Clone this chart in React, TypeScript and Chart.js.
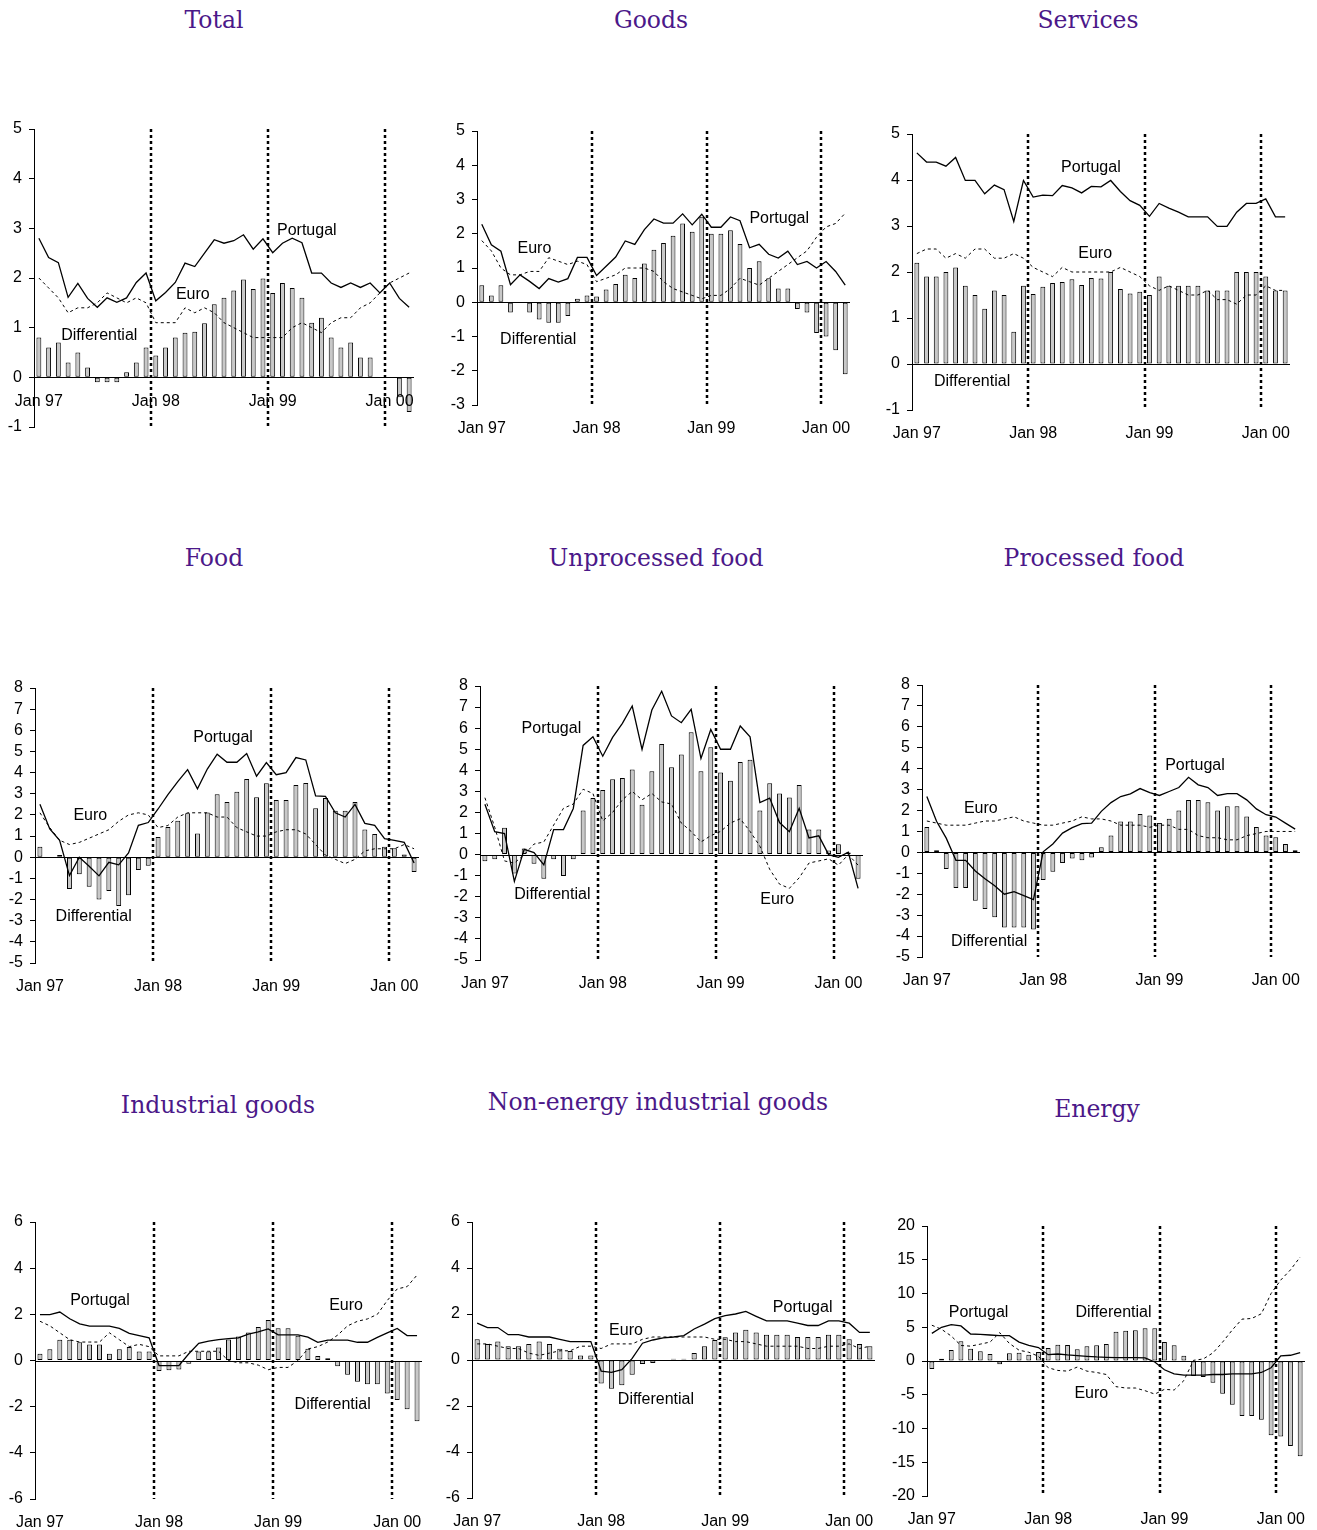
import React, { useEffect, useRef } from 'react';
import { Chart, registerables } from 'chart.js';

Chart.register(...registerables);

// Monthly observations, Jan 1997 – Mar 2000
const months = [
  'Jan 97', 'Feb 97', 'Mar 97', 'Apr 97', 'May 97', 'Jun 97', 'Jul 97', 'Aug 97', 'Sep 97', 'Oct 97', 'Nov 97', 'Dec 97',
  'Jan 98', 'Feb 98', 'Mar 98', 'Apr 98', 'May 98', 'Jun 98', 'Jul 98', 'Aug 98', 'Sep 98', 'Oct 98', 'Nov 98', 'Dec 98',
  'Jan 99', 'Feb 99', 'Mar 99', 'Apr 99', 'May 99', 'Jun 99', 'Jul 99', 'Aug 99', 'Sep 99', 'Oct 99', 'Nov 99', 'Dec 99',
  'Jan 00', 'Feb 00', 'Mar 00',
];

// Total
const totalPortugal = [2.8, 2.41, 2.31, 1.61, 1.89, 1.59, 1.41, 1.6, 1.51, 1.6, 1.91, 2.1, 1.54, 1.71, 1.91, 2.3, 2.23, 2.5, 2.77, 2.7, 2.75, 2.87, 2.58, 2.79, 2.51, 2.7, 2.8, 2.71, 2.1, 2.1, 1.9, 1.81, 1.9, 1.81, 1.9, 1.7, 1.9, 1.59, 1.41];
const totalEuro = [2.0, 1.8, 1.6, 1.3, 1.4, 1.4, 1.5, 1.7, 1.6, 1.5, 1.6, 1.5, 1.1, 1.1, 1.1, 1.4, 1.3, 1.4, 1.3, 1.1, 1.0, 0.9, 0.8, 0.8, 0.8, 0.8, 1.0, 1.1, 1.0, 0.9, 1.1, 1.2, 1.2, 1.4, 1.5, 1.7, 1.9, 2.0, 2.1];
const totalDiff = [0.8, 0.6, 0.7, 0.3, 0.5, 0.2, -0.1, -0.1, -0.1, 0.1, 0.3, 0.6, 0.44, 0.6, 0.8, 0.9, 0.92, 1.09, 1.47, 1.6, 1.75, 1.97, 1.78, 1.99, 1.7, 1.9, 1.8, 1.6, 1.1, 1.2, 0.8, 0.6, 0.7, 0.4, 0.4, 0, 0, -0.4, -0.7];

// Goods
const goodsPortugal = [2.28, 1.68, 1.49, 0.51, 0.8, 0.61, 0.4, 0.69, 0.59, 0.69, 1.31, 1.31, 0.78, 1.05, 1.32, 1.79, 1.69, 2.12, 2.43, 2.31, 2.31, 2.58, 2.26, 2.57, 2.19, 2.19, 2.49, 2.38, 1.59, 1.69, 1.4, 1.29, 1.49, 1.1, 1.19, 1.0, 1.19, 0.9, 0.5];
const goodsEuro = [1.8, 1.5, 1.0, 0.8, 0.8, 0.9, 0.9, 1.3, 1.2, 1.1, 1.2, 1.1, 0.6, 0.7, 0.8, 1.0, 1.0, 1.0, 0.9, 0.6, 0.4, 0.3, 0.2, 0.1, 0.2, 0.2, 0.4, 0.7, 0.6, 0.5, 0.7, 0.9, 1.1, 1.3, 1.5, 1.9, 2.2, 2.3, 2.6];
const goodsDiff = [0.5, 0.2, 0.5, -0.3, 0, -0.3, -0.5, -0.6, -0.6, -0.4, 0.1, 0.2, 0.17, 0.37, 0.53, 0.8, 0.71, 1.13, 1.53, 1.73, 1.94, 2.3, 2.06, 2.5, 2.0, 2.0, 2.1, 1.7, 1.0, 1.2, 0.7, 0.4, 0.4, -0.2, -0.3, -0.9, -1.0, -1.4, -2.1];

// Services
const servicesPortugal = [4.59, 4.39, 4.39, 4.3, 4.49, 3.99, 3.99, 3.7, 3.89, 3.79, 3.1, 3.99, 3.63, 3.67, 3.66, 3.88, 3.83, 3.72, 3.86, 3.85, 3.99, 3.75, 3.55, 3.45, 3.21, 3.49, 3.39, 3.3, 3.2, 3.2, 3.2, 2.99, 2.99, 3.3, 3.49, 3.49, 3.59, 3.2, 3.2];
const servicesEuro = [2.4, 2.5, 2.5, 2.3, 2.4, 2.3, 2.5, 2.5, 2.3, 2.3, 2.4, 2.3, 2.1, 2.0, 1.9, 2.1, 2.0, 2.0, 2.0, 2.0, 2.0, 2.1, 2.0, 1.9, 1.7, 1.6, 1.7, 1.6, 1.5, 1.5, 1.6, 1.4, 1.4, 1.3, 1.5, 1.5, 1.7, 1.6, 1.6];
const servicesDiff = [2.2, 1.9, 1.9, 2.0, 2.1, 1.7, 1.5, 1.2, 1.6, 1.5, 0.7, 1.7, 1.52, 1.68, 1.76, 1.78, 1.84, 1.72, 1.87, 1.86, 2.0, 1.63, 1.53, 1.57, 1.5, 1.9, 1.7, 1.7, 1.7, 1.7, 1.6, 1.6, 1.6, 2.0, 2.0, 2.0, 1.9, 1.6, 1.6];

// Food
const foodPortugal = [2.5, 1.34, 0.8, -0.87, 0.0, -0.43, -0.88, -0.24, -0.36, 0.2, 1.51, 1.64, 2.28, 2.96, 3.57, 4.14, 3.24, 4.17, 4.87, 4.49, 4.49, 4.9, 3.83, 4.47, 3.9, 4.0, 4.71, 4.6, 2.9, 2.88, 2.1, 1.9, 2.5, 1.6, 1.51, 0.88, 0.8, 0.7, -0.27];
const foodEuro = [2.1, 1.4, 0.8, 0.6, 0.7, 0.9, 1.1, 1.3, 1.7, 2.0, 2.1, 2.0, 1.4, 1.5, 1.9, 2.1, 2.1, 2.1, 1.9, 1.9, 1.4, 1.2, 1.0, 1.0, 1.2, 1.3, 1.3, 1.1, 0.6, 0.1, -0.1, -0.3, -0.1, 0.3, 0.4, 0.4, 0.4, 0.6, 0.4];
const foodDiff = [0.5, 0, 0.1, -1.5, -0.8, -1.4, -2.0, -1.6, -2.3, -1.8, -0.6, -0.4, 0.96, 1.43, 1.72, 2.08, 1.12, 2.11, 2.98, 2.61, 3.09, 3.7, 2.83, 3.5, 2.71, 2.71, 3.42, 3.51, 2.31, 2.8, 2.2, 2.2, 2.61, 1.31, 1.1, 0.49, 0.43, 0.13, -0.7];

// Unprocessed food
const unprocPortugal = [2.39, 1.09, 1.0, -1.27, 0.25, 0.1, -0.49, 1.19, 1.19, 2.19, 5.18, 5.59, 4.67, 5.56, 6.23, 7.05, 4.99, 6.86, 7.75, 6.58, 6.26, 6.89, 4.56, 5.94, 5.0, 5.0, 6.1, 5.59, 2.47, 2.68, 1.52, 1.09, 2.2, 0.79, 0.89, 0.0, -0.13, 0.11, -1.6];
const unprocEuro = [2.7, 1.3, -0.3, -0.4, 0.0, 0.5, 0.6, 1.4, 2.2, 2.4, 3.1, 2.9, 1.6, 2.0, 2.6, 3.0, 2.6, 2.9, 2.5, 2.4, 1.5, 1.1, 0.6, 0.9, 1.1, 1.5, 1.7, 1.1, 0.4, -0.7, -1.4, -1.6, -1.1, -0.4, -0.3, -0.2, -0.5, 0.0, -0.5];
const unprocDiff = [-0.32, -0.22, 1.28, -0.9, 0.29, -0.43, -1.14, -0.22, -1.01, -0.22, 2.09, 2.69, 3.06, 3.58, 3.64, 4.04, 2.36, 3.96, 5.25, 4.14, 4.75, 5.8, 3.96, 5.09, 3.9, 3.5, 4.4, 4.5, 2.09, 3.39, 2.9, 2.71, 3.3, 1.19, 1.19, 0.19, 0.49, 0.1, -1.14];

// Processed food
const procPortugal = [2.67, 1.49, 0.68, -0.38, -0.38, -0.89, -1.26, -1.59, -2.0, -1.88, -2.07, -2.26, 0.03, 0.4, 0.92, 1.18, 1.37, 1.4, 1.96, 2.38, 2.67, 2.8, 3.05, 2.86, 2.72, 2.91, 3.1, 3.59, 3.23, 3.1, 2.72, 2.81, 2.81, 2.51, 2.08, 1.8, 1.69, 1.4, 1.11];
const procEuro = [1.5, 1.4, 1.3, 1.3, 1.3, 1.4, 1.5, 1.5, 1.6, 1.7, 1.5, 1.4, 1.3, 1.3, 1.4, 1.5, 1.7, 1.6, 1.6, 1.5, 1.3, 1.3, 1.3, 1.2, 1.3, 1.3, 1.1, 1.1, 0.8, 0.7, 0.7, 0.6, 0.6, 0.8, 0.9, 1.0, 1.0, 1.0, 1.0];
const procDiff = [1.21, 0.1, -0.8, -1.7, -1.7, -2.31, -2.7, -3.1, -3.59, -3.59, -3.59, -3.69, -1.32, -0.92, -0.51, -0.29, -0.37, -0.24, 0.25, 0.81, 1.48, 1.48, 1.83, 1.76, 1.41, 1.61, 2.0, 2.5, 2.5, 2.4, 2.0, 2.21, 2.21, 1.72, 1.21, 0.81, 0.72, 0.4, 0.1];

// Industrial goods
const indPortugal = [1.99, 1.99, 2.1, 1.81, 1.59, 1.49, 1.49, 1.49, 1.39, 1.18, 1.08, 0.98, -0.22, -0.22, -0.22, 0.29, 0.74, 0.84, 0.9, 0.95, 0.98, 1.14, 1.24, 1.37, 1.11, 1.11, 1.11, 1.01, 0.79, 0.88, 0.88, 0.88, 0.79, 0.79, 1.0, 1.2, 1.39, 1.08, 1.08];
const indEuro = [1.7, 1.5, 1.2, 0.9, 0.8, 0.8, 0.8, 1.2, 0.9, 0.6, 0.7, 0.6, 0.2, 0.2, 0.2, 0.4, 0.4, 0.4, 0.4, 0.0, -0.1, -0.1, -0.2, -0.4, -0.3, -0.3, 0.0, 0.5, 0.6, 0.8, 1.1, 1.5, 1.7, 1.8, 2.0, 2.6, 3.1, 3.2, 3.7];
const indDiff = [0.29, 0.49, 0.9, 0.9, 0.79, 0.69, 0.69, 0.29, 0.49, 0.59, 0.39, 0.39, -0.46, -0.42, -0.39, -0.14, 0.39, 0.39, 0.56, 0.91, 1.04, 1.21, 1.45, 1.75, 1.4, 1.4, 1.07, 0.51, 0.19, 0.1, -0.25, -0.62, -0.92, -1.03, -1.03, -1.43, -1.71, -2.11, -2.63];

// Non-energy industrial goods
const neigPortugal = [1.6, 1.41, 1.41, 1.1, 1.1, 1.0, 1.0, 1.0, 0.9, 0.8, 0.8, 0.8, -0.48, -0.54, -0.42, 0.07, 0.73, 0.87, 0.96, 1.0, 1.06, 1.35, 1.56, 1.8, 1.93, 2.0, 2.11, 1.9, 1.7, 1.7, 1.7, 1.6, 1.5, 1.5, 1.7, 1.7, 1.6, 1.2, 1.2];
const neigEuro = [0.7, 0.7, 0.6, 0.5, 0.5, 0.3, 0.2, 0.3, 0.4, 0.4, 0.6, 0.6, 0.5, 0.7, 0.7, 0.7, 0.9, 1.0, 1.0, 1.0, 1.0, 1.0, 1.0, 0.9, 0.9, 0.8, 0.8, 0.7, 0.6, 0.6, 0.6, 0.6, 0.5, 0.5, 0.6, 0.6, 0.7, 0.5, 0.6];
const neigDiff = [0.9, 0.7, 0.8, 0.6, 0.6, 0.7, 0.8, 0.7, 0.49, 0.39, 0.2, 0.2, -1.02, -1.25, -1.1, -0.64, -0.17, -0.13, 0, 0.05, 0.05, 0.3, 0.6, 0.87, 0.99, 1.2, 1.31, 1.2, 1.1, 1.1, 1.1, 1.0, 1.0, 1.0, 1.1, 1.1, 0.9, 0.7, 0.6];

// Energy
const energyPortugal = [4.1, 5.0, 5.4, 5.2, 4.0, 3.95, 3.85, 3.75, 3.75, 2.8, 2.3, 2.0, 0.94, 1.04, 0.9, 0.8, 0.7, 0.6, 0.55, 0.5, 0.5, 0.5, 0.45, -0.15, -1.3, -1.9, -2.1, -2.1, -2.1, -2.0, -2.0, -1.9, -1.9, -1.9, -1.7, -1.0, 0.75, 0.85, 1.25];
const energyEuro = [5.3, 4.7, 3.7, 2.3, 2.2, 2.5, 2.8, 4.2, 2.6, 1.6, 1.3, 0.7, -1.0, -1.4, -1.5, -0.9, -1.5, -1.7, -2.0, -3.8, -4.0, -4.0, -4.4, -4.9, -4.2, -4.3, -2.9, 0.1, 0.3, 1.2, 2.8, 4.6, 6.2, 6.3, 7.0, 10.0, 12.0, 13.5, 15.4];
const energyDiff = [-1.19, 0.35, 1.63, 2.91, 1.83, 1.43, 1.04, -0.49, 1.14, 1.23, 0.94, 1.33, 1.93, 2.42, 2.37, 1.73, 2.17, 2.32, 2.52, 4.35, 4.49, 4.54, 4.84, 4.84, 2.81, 2.32, 0.79, -2.22, -2.37, -3.21, -4.84, -6.47, -8.15, -8.15, -8.69, -11.0, -11.2, -12.6, -14.1];

const SANS = "'Liberation Sans', Arial, Helvetica, sans-serif";
const SERIF = "'DejaVu Serif', 'Liberation Serif', serif";
const TITLE_COLOR = '#4b1889';
const BAR_FILL = '#c8c8c8';

type Note = { text: string; at: number; value: number };
type PanelSpec = {
  title: string;
  titleX: number;
  titleY: number;
  portugal: number[];
  euro: number[];
  diff: number[];
  yMin: number;
  yMax: number;
  yStep: number;
  plot: [number, number, number, number]; // left, top, right, bottom of the plotting area
  notes: Note[];
  labelsAtZero?: boolean;
};

const panels: PanelSpec[] = [
  {
    title: 'Total', titleX: 214, titleY: 21,
    portugal: totalPortugal, euro: totalEuro, diff: totalDiff,
    yMin: -1, yMax: 5, yStep: 1, plot: [34, 129, 414, 427], labelsAtZero: true,
    notes: [
      { text: 'Portugal', at: 27.5, value: 2.96 },
      { text: 'Euro', at: 15.8, value: 1.66 },
      { text: 'Differential', at: 6.2, value: 0.85 },
    ],
  },
  {
    title: 'Goods', titleX: 651, titleY: 21,
    portugal: goodsPortugal, euro: goodsEuro, diff: goodsDiff,
    yMin: -3, yMax: 5, yStep: 1, plot: [477, 131, 850, 405],
    notes: [
      { text: 'Euro', at: 5.5, value: 1.56 },
      { text: 'Differential', at: 5.9, value: -1.09 },
      { text: 'Portugal', at: 31.1, value: 2.44 },
    ],
  },
  {
    title: 'Services', titleX: 1088, titleY: 21,
    portugal: servicesPortugal, euro: servicesEuro, diff: servicesDiff,
    yMin: -1, yMax: 5, yStep: 1, plot: [912, 134, 1290, 410],
    notes: [
      { text: 'Portugal', at: 17.96, value: 4.26 },
      { text: 'Euro', at: 18.4, value: 2.4 },
      { text: 'Differential', at: 5.7, value: -0.38 },
    ],
  },
  {
    title: 'Food', titleX: 214, titleY: 559,
    portugal: foodPortugal, euro: foodEuro, diff: foodDiff,
    yMin: -5, yMax: 8, yStep: 1, plot: [35, 688, 419, 963],
    notes: [
      { text: 'Portugal', at: 18.6, value: 5.64 },
      { text: 'Euro', at: 5.12, value: 1.98 },
      { text: 'Differential', at: 5.46, value: -2.82 },
    ],
  },
  {
    title: 'Unprocessed food', titleX: 656, titleY: 559,
    portugal: unprocPortugal, euro: unprocEuro, diff: unprocDiff,
    yMin: -5, yMax: 8, yStep: 1, plot: [480, 686, 863, 960],
    notes: [
      { text: 'Portugal', at: 6.77, value: 6.0 },
      { text: 'Differential', at: 6.87, value: -1.9 },
      { text: 'Euro', at: 29.76, value: -2.14 },
    ],
  },
  {
    title: 'Processed food', titleX: 1094, titleY: 559,
    portugal: procPortugal, euro: procEuro, diff: procDiff,
    yMin: -5, yMax: 8, yStep: 1, plot: [922, 685, 1300, 957],
    notes: [
      { text: 'Portugal', at: 27.66, value: 4.15 },
      { text: 'Euro', at: 5.57, value: 2.07 },
      { text: 'Differential', at: 6.43, value: -4.24 },
    ],
  },
  {
    title: 'Industrial goods', titleX: 218, titleY: 1106,
    portugal: indPortugal, euro: indEuro, diff: indDiff,
    yMin: -6, yMax: 6, yStep: 2, plot: [35, 1222, 422, 1499],
    notes: [
      { text: 'Portugal', at: 6.05, value: 2.61 },
      { text: 'Euro', at: 30.85, value: 2.37 },
      { text: 'Differential', at: 29.5, value: -1.92 },
    ],
  },
  {
    title: 'Non-energy industrial goods', titleX: 658, titleY: 1103,
    portugal: neigPortugal, euro: neigEuro, diff: neigDiff,
    yMin: -6, yMax: 6, yStep: 2, plot: [472, 1222, 875, 1498],
    notes: [
      { text: 'Portugal', at: 31.5, value: 2.3 },
      { text: 'Euro', at: 14.4, value: 1.3 },
      { text: 'Differential', at: 17.3, value: -1.71 },
    ],
  },
  {
    title: 'Energy', titleX: 1097, titleY: 1110,
    portugal: energyPortugal, euro: energyEuro, diff: energyDiff,
    yMin: -20, yMax: 20, yStep: 5, plot: [927, 1226, 1305, 1496],
    notes: [
      { text: 'Portugal', at: 4.82, value: 7.17 },
      { text: 'Differential', at: 18.74, value: 7.17 },
      { text: 'Euro', at: 16.45, value: -4.89 },
    ],
  },
];

const AXIS_W = 40;
const PAD_T = 24;
const PAD_R = 12;
const PAD_B = 40;

// Zero line, dotted year separators, month labels and series captions
function overlayPlugin(spec: PanelSpec) {
  return {
    id: 'panelOverlay',
    beforeDatasetsDraw(chart: any) {
      const { ctx, chartArea, scales } = chart;
      const y0 = Math.round(scales.y.getPixelForValue(0)) + 0.5;
      ctx.save();
      ctx.strokeStyle = '#000';
      ctx.lineWidth = 1;
      ctx.beginPath();
      ctx.moveTo(chartArea.left, y0);
      ctx.lineTo(chartArea.right, y0);
      ctx.stroke();
      ctx.restore();
    },
    afterDraw(chart: any) {
      const { ctx, chartArea } = chart;
      const x = chart.scales.x;
      const y = chart.scales.y;
      ctx.save();
      ctx.strokeStyle = '#000';
      ctx.lineWidth = 2.5;
      ctx.setLineDash([3, 3]);
      months.forEach((m, i) => {
        if (i > 0 && m.startsWith('Jan')) {
          const px = Math.round((x.getPixelForValue(i - 1) + x.getPixelForValue(i)) / 2);
          ctx.beginPath();
          ctx.moveTo(px, chartArea.top);
          ctx.lineTo(px, chartArea.bottom);
          ctx.stroke();
        }
      });
      ctx.setLineDash([]);
      ctx.fillStyle = '#000';
      ctx.font = `16px ${SANS}`;
      ctx.textAlign = 'center';
      ctx.textBaseline = 'middle';
      const base = spec.labelsAtZero ? y.getPixelForValue(0) : chartArea.bottom;
      months.forEach((m, i) => {
        if (m.startsWith('Jan')) ctx.fillText(m, x.getPixelForValue(i), base + 24);
      });
      spec.notes.forEach((n) => {
        ctx.fillText(n.text, x.getPixelForValue(n.at), y.getPixelForValue(n.value));
      });
      ctx.restore();
    },
  };
}

function Panel({ spec }: { spec: PanelSpec }) {
  const ref = useRef<HTMLCanvasElement>(null);
  const [l, t, r, b] = spec.plot;
  const width = r - l + AXIS_W + PAD_R;
  const height = b - t + PAD_T + PAD_B;

  useEffect(() => {
    if (!ref.current) return;
    const chart = new Chart(ref.current, {
      type: 'bar',
      data: {
        labels: months,
        datasets: [
          {
            type: 'line',
            label: 'Portugal',
            data: spec.portugal,
            borderColor: '#000',
            borderWidth: 1.3,
            pointRadius: 0,
            tension: 0,
            fill: false,
            order: 0,
          },
          {
            type: 'line',
            label: 'Euro',
            data: spec.euro,
            borderColor: '#000',
            borderWidth: 1,
            borderDash: [3, 3],
            pointRadius: 0,
            tension: 0,
            fill: false,
            order: 1,
          },
          {
            type: 'bar',
            label: 'Differential',
            data: spec.diff,
            backgroundColor: BAR_FILL,
            borderColor: '#000',
            borderWidth: 1,
            borderSkipped: false,
            barPercentage: 0.5,
            categoryPercentage: 1,
            order: 2,
          },
        ] as any,
      },
      options: {
        responsive: false,
        animation: false,
        events: [],
        layout: { padding: { left: 0, top: PAD_T, right: PAD_R, bottom: PAD_B } },
        plugins: {
          legend: { display: false },
          tooltip: { enabled: false },
        },
        scales: {
          x: { type: 'category', display: false, offset: true },
          y: {
            min: spec.yMin,
            max: spec.yMax,
            ticks: {
              stepSize: spec.yStep,
              autoSkip: false,
              color: '#000',
              font: { family: SANS, size: 16 },
              padding: 7,
            },
            grid: {
              drawOnChartArea: false,
              drawTicks: true,
              tickLength: 5,
              tickColor: '#000',
            },
            border: { display: true, color: '#000', width: 1 },
            afterFit: (scale: any) => {
              scale.width = AXIS_W;
            },
          },
        },
      } as any,
      plugins: [overlayPlugin(spec)],
    });

    // keep the plotting area exactly where the panel box says
    const ca = chart.chartArea;
    const dTop = ca.top - PAD_T;
    const dBottom = height - PAD_B - ca.bottom;
    const dLeft = ca.left - AXIS_W;
    const dRight = width - PAD_R - ca.right;
    if (dTop || dBottom || dLeft || dRight) {
      (chart.options as any).layout.padding = {
        left: 0 - dLeft,
        top: PAD_T - dTop,
        right: PAD_R - dRight,
        bottom: PAD_B - dBottom,
      };
      chart.update();
    }
    return () => chart.destroy();
  }, [spec]);

  return (
    <canvas
      ref={ref}
      width={width}
      height={height}
      style={{ position: 'absolute', left: l - AXIS_W, top: t - PAD_T, width, height }}
    />
  );
}

export default function App() {
  return (
    <div
      style={{
        position: 'absolute',
        left: 0,
        top: 0,
        width: 1317,
        height: 1530,
        background: '#fff',
        overflow: 'hidden',
      }}
    >
      {panels.map((p) => (
        <div
          key={p.title + '-title'}
          style={{
            position: 'absolute',
            left: p.titleX,
            top: p.titleY,
            transform: 'translate(-50%, -50%)',
            whiteSpace: 'nowrap',
            fontFamily: SERIF,
            fontSize: 23.5,
            color: TITLE_COLOR,
            lineHeight: 1,
          }}
        >
          {p.title}
        </div>
      ))}
      {panels.map((p) => (
        <Panel key={p.title} spec={p} />
      ))}
    </div>
  );
}
